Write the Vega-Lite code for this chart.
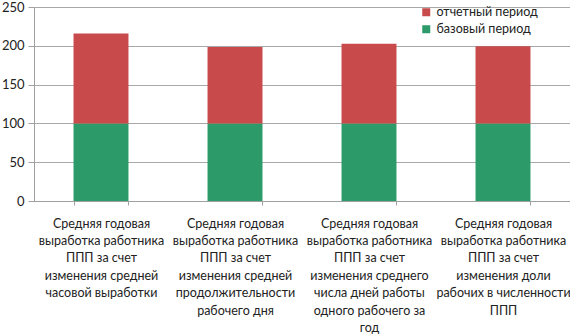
{
  "$schema": "https://vega.github.io/schema/vega-lite/v6.json",
  "width": 536,
  "height": 194,
  "autosize": "none",
  "padding": {"left": 34, "top": 7, "right": 0, "bottom": 135},
  "background": "white",
  "config": {
    "view": {"stroke": null},
    "font": "Lato"
  },
  "data": {
    "values": [
      {"cat": "Средняя годовая|выработка работника|ППП за счет|изменения средней|часовой выработки", "series": "базовый период", "value": 100, "ord": 1},
      {"cat": "Средняя годовая|выработка работника|ППП за счет|изменения средней|часовой выработки", "series": "отчетный период", "value": 116, "ord": 2},
      {"cat": "Средняя годовая|выработка работника|ППП за счет|изменения средней|продолжительности|рабочего дня", "series": "базовый период", "value": 100, "ord": 1},
      {"cat": "Средняя годовая|выработка работника|ППП за счет|изменения средней|продолжительности|рабочего дня", "series": "отчетный период", "value": 98.5, "ord": 2},
      {"cat": "Средняя годовая|выработка работника|ППП за счет|изменения среднего|числа дней работы|одного рабочего за|год", "series": "базовый период", "value": 100, "ord": 1},
      {"cat": "Средняя годовая|выработка работника|ППП за счет|изменения среднего|числа дней работы|одного рабочего за|год", "series": "отчетный период", "value": 102.6, "ord": 2},
      {"cat": "Средняя годовая|выработка работника|ППП за счет|изменения доли|рабочих в численности|ППП", "series": "базовый период", "value": 100, "ord": 1},
      {"cat": "Средняя годовая|выработка работника|ППП за счет|изменения доли|рабочих в численности|ППП", "series": "отчетный период", "value": 99.5, "ord": 2}
    ]
  },
  "mark": {"type": "bar"},
  "encoding": {
    "x": {
      "field": "cat", "type": "nominal", "sort": null,
      "scale": {"paddingInner": 0.59, "paddingOuter": 0.295},
      "axis": {
        "title": null, "labelAngle": 0, "labelExpr": "split(datum.label, '|')",
        "labelLimit": 0, "labelFontSize": 12.5, "labelColor": "#222222",
        "labelLineHeight": 17.4, "labelPadding": 12,
        "domainColor": "#a0a0a0", "tickColor": "#a0a0a0", "tickBand": "extent", "tickSize": 4,
        "grid": false
      }
    },
    "y": {
      "field": "value", "type": "quantitative", "aggregate": "sum", "stack": "zero",
      "scale": {"domain": [0, 250]},
      "axis": {
        "title": null, "values": [0, 50, 100, 150, 200, 250],
        "labelFontSize": 13, "labelColor": "#222222", "labelPadding": 4,
        "domainColor": "#a0a0a0", "tickColor": "#a0a0a0", "tickSize": 6,
        "gridColor": "#a8a8a8", "gridWidth": 1
      }
    },
    "color": {
      "field": "series", "type": "nominal",
      "scale": {"domain": ["отчетный период", "базовый период"], "range": ["#c84a4a", "#2c9a69"]},
      "legend": {
        "title": null, "orient": "none", "legendX": 386, "legendY": -1,
        "symbolType": "square", "symbolSize": 64, "symbolStrokeWidth": 0,
        "labelFontSize": 12.5, "labelColor": "#222222", "rowPadding": 4
      }
    },
    "order": {"field": "ord", "type": "quantitative"}
  }
}
